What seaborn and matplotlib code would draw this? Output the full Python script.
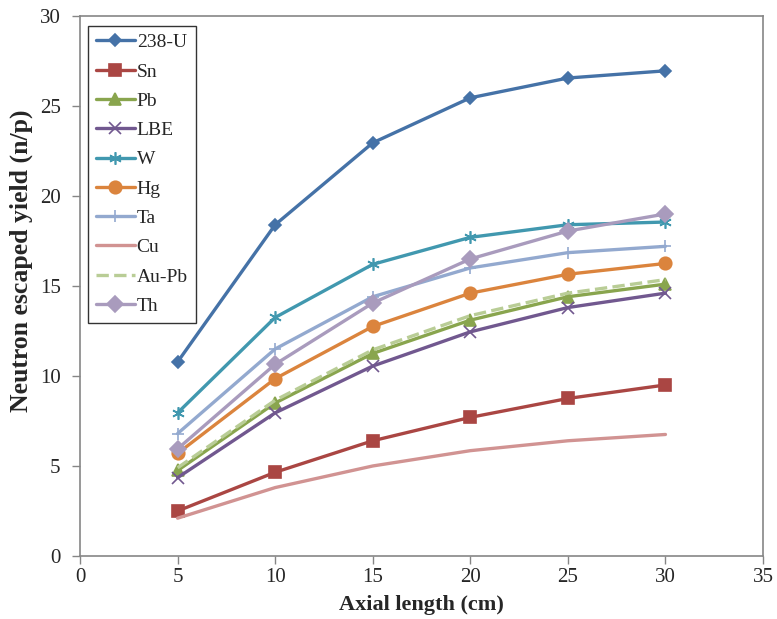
import matplotlib
matplotlib.use("Agg")
import matplotlib.pyplot as plt
import seaborn as sns
import pandas as pd

x_cm = [5, 10, 15, 20, 25, 30]
u238 = [10.78, 18.4, 22.95, 25.45, 26.55, 26.95]
sn = [2.5, 4.65, 6.4, 7.7, 8.75, 9.5]
pb = [4.75, 8.5, 11.25, 13.1, 14.4, 15.1]
lbe = [4.35, 7.95, 10.55, 12.45, 13.8, 14.6]
w = [7.95, 13.25, 16.2, 17.7, 18.4, 18.55]
hg = [5.7, 9.85, 12.75, 14.6, 15.65, 16.25]
ta = [6.8, 11.5, 14.4, 16.0, 16.85, 17.2]
cu = [2.1, 3.8, 5.0, 5.85, 6.4, 6.75]
aupb = [4.9, 8.65, 11.45, 13.35, 14.6, 15.35]
th = [5.95, 10.65, 14.05, 16.5, 18.05, 19.0]

names = ["238-U", "Sn", "Pb", "LBE", "W", "Hg", "Ta", "Cu", "Au-Pb", "Th"]
series = [u238, sn, pb, lbe, w, hg, ta, cu, aupb, th]
colors = ["#4572A7", "#AA4643", "#89A54E", "#71588F", "#4198AF",
          "#DB843D", "#93A9CF", "#D19392", "#B9CD96", "#A99BBD"]
markers = ["D", "s", "^", "x", (6, 2, 0), "o", "+", None, None, "D"]
msizes = [6, 8, 8, 8, 9, 9, 9, 0, 0, 8]
styles = ["-"] * 8 + ["--", "-"]

sns.set_theme(style="white")
plt.rcParams["font.family"] = ["Liberation Serif", "DejaVu Serif"]

fig = plt.figure(figsize=(7.77, 6.19), dpi=100)
ax = fig.add_axes([0.103, 0.1018, 0.879, 0.8725])

for name, vals, c, m, ms, ls in zip(names, series, colors, markers, msizes, styles):
    df = pd.DataFrame({"x": x_cm, "y": vals})
    kw = dict(marker=m, markersize=ms, markeredgecolor=c, markerfacecolor=c,
              markeredgewidth=1.2) if m is not None else {}
    sns.lineplot(data=df, x="x", y="y", ax=ax, color=c, linewidth=2.4,
                 linestyle=ls, label=name, **kw)

ax.set_xlim(0, 35)
ax.set_ylim(0, 30)
ax.set_xticks(range(0, 36, 5))
ax.set_yticks(range(0, 31, 5))
ax.tick_params(axis="both", labelsize=15, direction="out", length=6,
               width=1, color="#868686", bottom=True, left=True)
ax.tick_params(axis="x", pad=3)
ax.tick_params(axis="y", pad=8)
for s in ax.spines.values():
    s.set_color("#868686")
    s.set_linewidth(1.2)
ax.set_xlabel("Axial length (cm)", fontsize=16, fontweight="bold")
ax.set_ylabel("Neutron escaped yield (n/p)", fontsize=18.5, fontweight="bold")
ax.xaxis.set_label_coords(0.5, -0.072)
ax.yaxis.set_label_coords(-0.069, 0.546)

leg = ax.legend(loc="upper left", bbox_to_anchor=(0.0117, 0.9815), fontsize=14,
                frameon=True, fancybox=False, borderaxespad=0.0,
                handlelength=2.0, labelspacing=0.6, handletextpad=0.1,
                borderpad=0.4)
leg.get_frame().set_edgecolor("black")
leg.get_frame().set_linewidth(1.0)

fig.savefig("out.png", dpi=100)
